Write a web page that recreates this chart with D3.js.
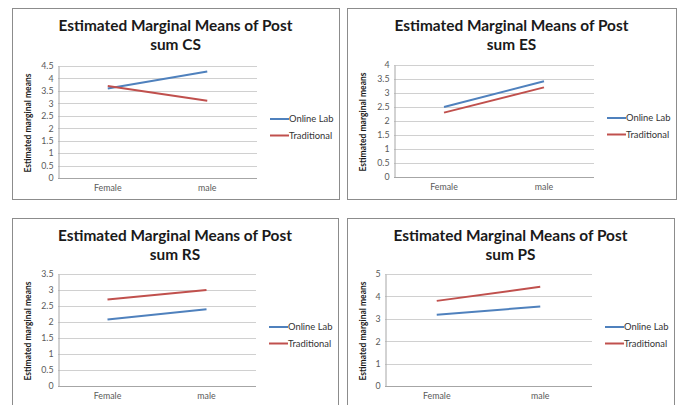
<!DOCTYPE html>
<html>
<head>
<meta charset="utf-8">
<script src="https://cdn.jsdelivr.net/npm/d3@7"></script>
<style>
  body { margin: 0; background: #fff; }
  text { font-family: Lato, "Open Sans", sans-serif; }
</style>
</head>
<body>
<svg id="chart" width="678" height="405"></svg>
<script>
// values
const categories = ["Female", "male"];
const seriesNames = ["Online Lab", "Traditional"];
const titles = ["sum CS", "sum ES", "sum RS", "sum PS"];

const csOnline = [3.6, 4.28];
const csTrad   = [3.7, 3.1];
const esOnline = [2.5, 3.42];
const esTrad   = [2.3, 3.2];
const rsOnline = [2.08, 2.4];
const rsTrad   = [2.7, 3.0];
const psOnline = [3.18, 3.55];
const psTrad   = [3.8, 4.43];

const yMax  = [4.5, 4, 3.5, 5];
const yStep = [0.5, 0.5, 0.5, 1];

const colors = ["#4f81bd", "#c0504d"];

// panel boxes + plot areas (pixels)
const panels = [
  {box: [12, 8, 327, 191],  plot: [58, 66, 257, 178],   series: [csOnline, csTrad]},
  {box: [347, 8, 329, 191], plot: [394, 65, 594, 177],  series: [esOnline, esTrad]},
  {box: [12, 218, 326, 200], plot: [58, 274, 256, 386], series: [rsOnline, rsTrad]},
  {box: [347, 218, 327, 200], plot: [385, 274, 592, 386], series: [psOnline, psTrad]}
];

const svg = d3.select("#chart");

panels.forEach((p, k) => {
  const [bx, by, bw, bh] = p.box;
  const [x0, y0, x1, y1] = p.plot;
  const g = svg.append("g");

  g.append("rect")
    .attr("x", bx + 0.5).attr("y", by + 0.5)
    .attr("width", bw).attr("height", bh)
    .attr("fill", "#fff").attr("stroke", "#8c8c8c");

  const cx = bx + bw / 2;
  g.append("text").attr("x", cx).attr("y", by + 23)
    .attr("text-anchor", "middle").attr("font-weight", "bold")
    .attr("font-size", 15.4).attr("fill", "#1a1a1a")
    .text("Estimated Marginal Means of Post");
  g.append("text").attr("x", cx).attr("y", by + 42)
    .attr("text-anchor", "middle").attr("font-weight", "bold")
    .attr("font-size", 15.4).attr("fill", "#1a1a1a")
    .text(titles[k]);

  const x = d3.scaleBand().domain(categories).range([x0, x1]);
  const y = d3.scaleLinear().domain([0, yMax[k]]).range([y1, y0]);
  const ticks = d3.range(0, yMax[k] + 1e-9, yStep[k]);

  // gridlines
  g.selectAll(".grid").data(ticks).enter().append("line")
    .attr("x1", x0).attr("x2", x1)
    .attr("y1", d => Math.round(y(d)) + 0.5).attr("y2", d => Math.round(y(d)) + 0.5)
    .attr("stroke", d => d === 0 ? "#a6a6a6" : "#d0d0d0");

  const yAxis = g.append("g").attr("transform", `translate(${x0 + 0.5},0)`)
    .call(d3.axisLeft(y).tickValues(ticks).tickSize(0).tickPadding(5)
      .tickFormat(d3.format("~g")));
  yAxis.select(".domain").attr("stroke", "#a6a6a6");
  yAxis.selectAll("text").attr("font-size", 8.8).attr("fill", "#595959")
    .attr("font-family", "Lato, sans-serif");

  const xAxis = g.append("g").attr("transform", `translate(0,${y1})`)
    .call(d3.axisBottom(x).tickSize(0).tickPadding(7));
  xAxis.select(".domain").remove();
  xAxis.selectAll("text").attr("font-size", 8.8).attr("fill", "#595959")
    .attr("font-family", "Lato, sans-serif");

  g.append("text")
    .attr("transform", `translate(${bx + 19},${(y0 + y1) / 2 + 1}) rotate(-90)`)
    .attr("text-anchor", "middle").attr("font-weight", "bold")
    .attr("font-size", 8.5).attr("fill", "#1a1a1a")
    .text("Estimated marginal means");

  const line = d3.line()
    .x((d, i) => x(categories[i]) + x.bandwidth() / 2)
    .y(d => y(d));

  p.series.forEach((s, j) => {
    g.append("path").datum(s).attr("d", line)
      .attr("fill", "none").attr("stroke", colors[j]).attr("stroke-width", 2);
  });

  // legend
  const lx = x1 + 13;
  const ly = (y0 + y1) / 2 - 3;
  seriesNames.forEach((n, j) => {
    const yy = ly + j * 16.5;
    g.append("line").attr("x1", lx).attr("x2", lx + 19)
      .attr("y1", yy).attr("y2", yy)
      .attr("stroke", colors[j]).attr("stroke-width", 2);
    g.append("text").attr("x", lx + 19).attr("y", yy + 3.2)
      .attr("font-size", 9.4).attr("fill", "#333")
      .text(n);
  });
});
</script>
</body>
</html>
